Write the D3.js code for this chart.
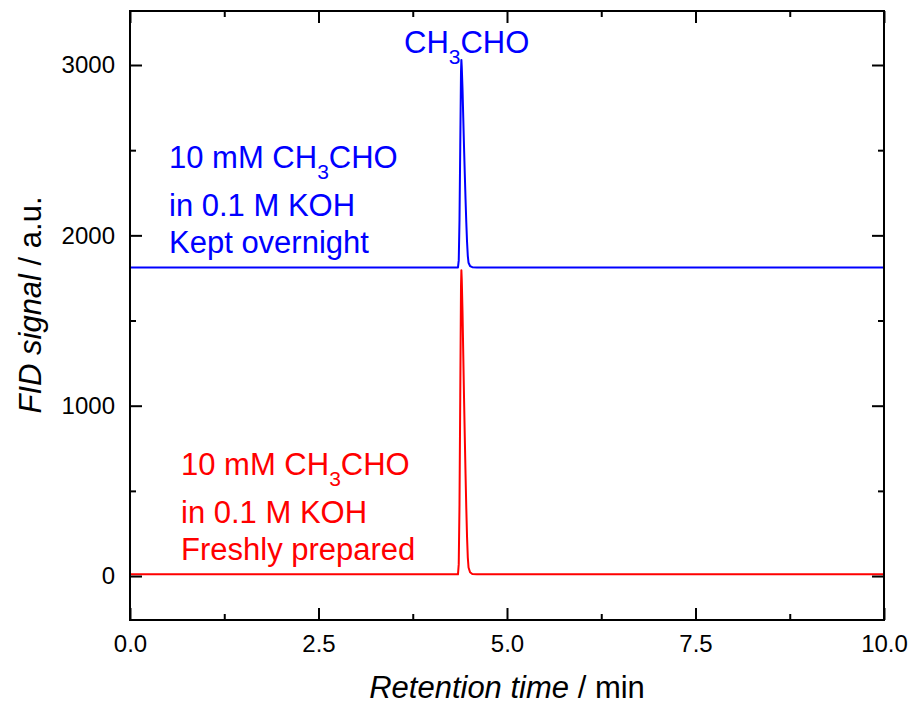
<!DOCTYPE html>
<html>
<head>
<meta charset="utf-8">
<script src="https://cdn.jsdelivr.net/npm/d3@7"></script>
<style>
  body { margin: 0; background: #fff; }
  svg { display: block; font-family: "Liberation Sans", Arial, sans-serif; }
</style>
</head>
<body>
<div id="chart"></div>
<script>
// chromatogram data
const retentionTime = [0, 2, 4, 4.3, 4.35, 4.36, 4.37, 4.38, 4.39, 4.395, 4.40, 4.41, 4.42, 4.43, 4.44, 4.45, 4.46, 4.47, 4.48, 4.49, 4.51, 4.54, 4.6, 6, 8, 10];
const keptOvernight = [1812, 1812, 1812, 1812, 1812, 1853, 2090, 2520, 2960, 3030, 2988, 2859, 2689, 2519, 2363, 2213, 2077, 1962, 1880, 1839, 1820, 1813, 1812, 1812, 1812, 1812];
const freshlyPrepared = [10, 10, 10, 10, 10, 70, 420, 1050, 1700, 1795, 1740, 1550, 1300, 1050, 820, 600, 400, 230, 110, 50, 22, 12, 10, 10, 10, 10];

const xTicks = [0, 2.5, 5, 7.5, 10];
const xMinorTicks = [1.25, 3.75, 6.25, 8.75];
const yTicks = [0, 1000, 2000, 3000];
const yMinorTicks = [500, 1500, 2500];

const blueLabel = ['10 mM CH|3|CHO', 'in 0.1 M KOH', 'Kept overnight'];
const redLabel = ['10 mM CH|3|CHO', 'in 0.1 M KOH', 'Freshly prepared'];

const width = 912, height = 706;
const margins = { left: 130, right: 28, top: 11, bottom: 86 };
const chartWidth = width - margins.left - margins.right;
const chartHeight = height - margins.top - margins.bottom;

const svg = d3.select('#chart')
    .append('svg')
    .attr('width', width)
    .attr('height', height);

const chart = svg.append('g')
    .attr('transform', `translate(${margins.left}, ${margins.top})`);

const xScale = d3.scaleLinear().domain([0, 10]).range([0, chartWidth]);
const yScale = d3.scaleLinear().domain([-258, 3317]).range([chartHeight, 0]);

// traces
const line = d3.line()
    .x(d => xScale(d[0]))
    .y(d => yScale(d[1]));

chart.append('path')
    .datum(retentionTime.map((t, i) => [t, freshlyPrepared[i]]))
    .attr('fill', 'none')
    .attr('stroke', '#ff0000')
    .attr('stroke-width', 2)
    .attr('stroke-linejoin', 'round')
    .attr('d', line);

chart.append('path')
    .datum(retentionTime.map((t, i) => [t, keptOvernight[i]]))
    .attr('fill', 'none')
    .attr('stroke', '#0000ff')
    .attr('stroke-width', 2)
    .attr('stroke-linejoin', 'round')
    .attr('d', line);

// axes, ticks pointing inward on all four sides
function styleAxis(g) {
    g.select('.domain').remove();
    g.selectAll('line').attr('stroke', '#000').attr('stroke-width', 2);
    g.selectAll('text')
        .attr('fill', '#000')
        .style('font-size', '24px')
        .style('font-family', '"Liberation Sans", Arial, sans-serif');
}

chart.append('g')
    .attr('transform', `translate(0, ${chartHeight})`)
    .call(d3.axisBottom(xScale).tickValues(xTicks).tickSize(-12).tickPadding(15).tickFormat(d3.format('.1f')))
    .call(styleAxis);
chart.append('g')
    .attr('transform', `translate(0, ${chartHeight})`)
    .call(d3.axisBottom(xScale).tickValues(xMinorTicks).tickSize(-6).tickFormat(''))
    .call(styleAxis);
chart.append('g')
    .call(d3.axisTop(xScale).tickValues(xTicks).tickSize(-12).tickFormat(''))
    .call(styleAxis);
chart.append('g')
    .call(d3.axisTop(xScale).tickValues(xMinorTicks).tickSize(-6).tickFormat(''))
    .call(styleAxis);

chart.append('g')
    .call(d3.axisLeft(yScale).tickValues(yTicks).tickSize(-12).tickPadding(15).tickFormat(d3.format('d')))
    .call(styleAxis);
chart.append('g')
    .call(d3.axisLeft(yScale).tickValues(yMinorTicks).tickSize(-6).tickFormat(''))
    .call(styleAxis);
chart.append('g')
    .attr('transform', `translate(${chartWidth}, 0)`)
    .call(d3.axisRight(yScale).tickValues(yTicks).tickSize(-12).tickFormat(''))
    .call(styleAxis);
chart.append('g')
    .attr('transform', `translate(${chartWidth}, 0)`)
    .call(d3.axisRight(yScale).tickValues(yMinorTicks).tickSize(-6).tickFormat(''))
    .call(styleAxis);

// frame
chart.append('rect')
    .attr('width', chartWidth)
    .attr('height', chartHeight)
    .attr('fill', 'none')
    .attr('stroke', '#000')
    .attr('stroke-width', 2);

// text with a subscript written as 'CH|3|CHO'
function addFormula(sel, str, subSize, subShift) {
    str.split('|').forEach((part, i) => {
        if (i % 2 === 1) {
            sel.append('tspan').attr('dy', subShift).style('font-size', subSize).text(part);
        } else if (i > 0) {
            sel.append('tspan').attr('dy', -subShift).text(part);
        } else {
            sel.append('tspan').text(part);
        }
    });
}

function addLabel(lines, x, baselines, color) {
    lines.forEach((str, i) => {
        const t = svg.append('text')
            .attr('x', x)
            .attr('y', baselines[i])
            .attr('fill', color)
            .style('font-size', '31px');
        addFormula(t, str, '21px', 11);
    });
}

addLabel(blueLabel, 169, [168, 216, 253], '#0000ff');
addLabel(redLabel, 181, [475, 523, 560], '#ff0000');

const peakLabel = svg.append('text')
    .attr('x', 404)
    .attr('y', 53)
    .attr('fill', '#0000ff')
    .style('font-size', '31px');
addFormula(peakLabel, 'CH|3|CHO', '21px', 11);

// axis titles
const xTitle = svg.append('text')
    .attr('x', margins.left + chartWidth / 2)
    .attr('y', 698)
    .attr('text-anchor', 'middle')
    .attr('fill', '#000')
    .style('font-size', '31px');
xTitle.append('tspan').style('font-style', 'italic').text('Retention time');
xTitle.append('tspan').text(' / min');

const yTitle = svg.append('text')
    .attr('transform', `translate(41, 305) rotate(-90)`)
    .attr('text-anchor', 'middle')
    .attr('fill', '#000')
    .style('font-size', '31px');
yTitle.append('tspan').style('font-style', 'italic').text('FID signal');
yTitle.append('tspan').text(' / a.u.');
</script>
</body>
</html>
